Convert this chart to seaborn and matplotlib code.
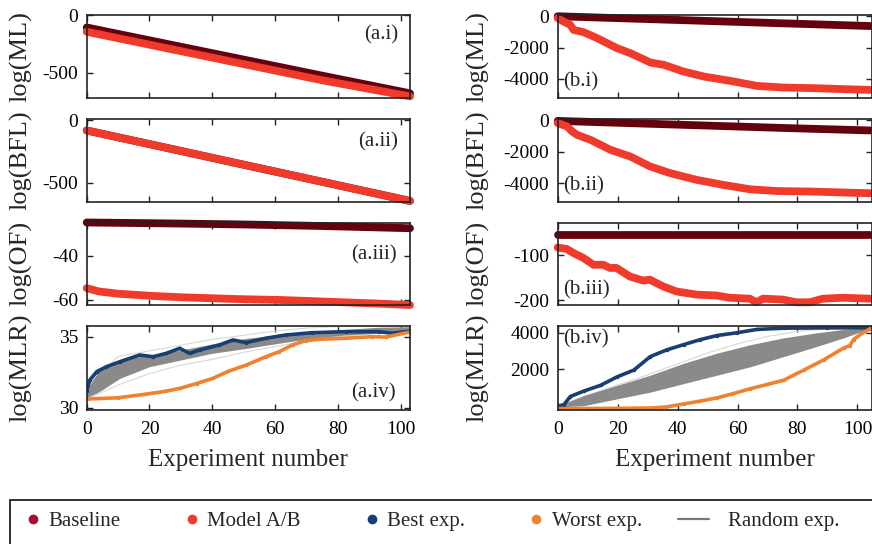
import numpy as np
import matplotlib
matplotlib.use("Agg")
import matplotlib.pyplot as plt
import seaborn as sns
from matplotlib.lines import Line2D
from matplotlib.patches import Rectangle
from matplotlib.legend_handler import HandlerLine2D

# ---------- style ----------
sns.set_theme(style="ticks")
plt.rcParams['font.family'] = ['Liberation Serif', 'DejaVu Serif']
plt.rcParams['axes.unicode_minus'] = False

# ---------- data ----------
# column (a): straight lines
x_a_line = [0, 25, 50, 75, 103]
baseline_ai = [-108, -247, -386, -525, -678]
model_ai = [-145, -285, -425, -565, -705]
baseline_aii = [-81, -218, -356, -493, -647]
model_aii = [-81, -218, -356, -493, -647]
baseline_aiii = [-25.0, -25.4, -25.9, -26.6, -27.6]

x_model_aiii = [0, 4, 10, 21, 30, 41, 50, 61, 71, 82, 92, 103]
model_aiii = [-54.7, -56.2, -57.2, -58.2, -58.8, -59.3, -59.7, -60.0, -60.5, -61.1, -61.6, -62.3]

x_best_aiv = [0, 1, 3.2, 6.3, 10.6, 16.9, 21.2, 25.4, 29.6, 32.8, 36, 42.3, 46.6, 50.8,
              57.1, 63.5, 71.9, 82.5, 93.1, 97.3, 103]
best_aiv = [31.2, 31.95, 32.54, 32.89, 33.24, 33.71, 33.59, 33.83, 34.18, 33.83, 34.06, 34.42,
            34.77, 34.58, 34.89, 35.12, 35.28, 35.35, 35.35, 35.24, 35.38]
x_worst_aiv = [0, 10, 19, 25, 29.6, 35, 40.2, 45, 50.8, 57.1, 61.3, 65.6, 69.8, 74.1, 82.5,
               91, 95.2, 103]
worst_aiv = [30.61, 30.7, 30.96, 31.15, 31.36, 31.7, 32.07, 32.55, 33.0, 33.59, 33.94, 34.42,
             34.72, 34.82, 34.89, 35.0, 34.97, 35.33]
x_band_aiv = [0, 4, 10.6, 20, 30, 40, 51, 61, 72, 82.5, 93, 103]
upper_aiv = [31.3, 32.65, 33.36, 33.71, 34.06, 34.49, 34.89, 35.12, 35.35, 35.52, 35.66, 35.7]
lower_aiv = [30.7, 31.13, 32.07, 32.89, 33.36, 33.83, 34.18, 34.53, 34.89, 35.12, 35.24, 35.35]
x_faint_a = [0, 10, 20, 30, 40, 50, 60, 70, 80, 90, 103]
faint_aiv_1 = [30.6, 31.6, 32.4, 33.0, 33.4, 33.9, 34.3, 34.7, 35.0, 35.2, 35.4]
faint_aiv_2 = [31.5, 33.6, 34.0, 34.4, 34.8, 35.1, 35.4, 35.6, 35.7, 35.75, 35.75]

# column (b)
x_b_line = [0, 25, 50, 75, 104.3]
baseline_bi = [0, -150, -300, -450, -625]
baseline_bii = [-30, -180, -330, -480, -640]
baseline_biii = [-56, -56, -56, -56, -56]

x_model_bi = [0, 2, 4.2, 5.3, 8.7, 13.2, 19.8, 24.3, 31, 35.4, 42, 48.8, 57.7, 66.6, 75.4,
              85.4, 96.5, 104.3]
model_bi = [-120, -340, -550, -870, -1020, -1400, -2040, -2360, -2960, -3100, -3530, -3850,
            -4130, -4450, -4550, -4590, -4660, -4700]
x_model_bii = [0, 3.1, 4.8, 6.4, 10.9, 17.6, 24.2, 30.9, 37.6, 46.4, 55.3, 64.2, 73.1, 85.3,
               96.4, 104.2]
model_bii = [-170, -380, -700, -915, -1235, -1875, -2300, -2940, -3365, -3790, -4110, -4390,
             -4500, -4535, -4600, -4640]
x_model_biii = [0, 3, 5.2, 8.6, 11.9, 15.2, 17.4, 19.6, 24.1, 28.5, 30.7, 35.2, 39.6, 46.3, 53,
                57.4, 64.1, 66.3, 68.5, 75.2, 79.6, 84.1, 88.5, 95.2, 104]
model_biii = [-83, -86, -95, -106, -121, -121, -128, -128, -147, -156, -154, -169, -180, -187,
              -189, -194, -196, -204, -196, -198, -204, -204, -196, -194, -196]

x_best_biv = [0, 2, 4.2, 8.7, 14.3, 19.8, 25.4, 30.9, 36.5, 42, 47.6, 53.2, 59.8, 66.5, 75.4,
              90, 104.3]
best_biv = [0, 60, 517, 813, 1128, 1590, 1961, 2700, 3072, 3350, 3628, 3850, 4000, 4183, 4250,
            4270, 4270]
x_worst_biv = [0, 10, 20, 30.9, 36, 42, 47, 53.2, 58, 64.3, 70, 75.4, 82.1, 88.7, 95.4, 97.5,
               98.7, 101, 104.3]
worst_biv = [-140, -140, -130, -111, -60, 111, 250, 444, 650, 944, 1180, 1406, 1961, 2517, 3167,
             3300, 3628, 3906, 4230]
x_band_biv = [0, 8.7, 19.8, 30.9, 42, 53.2, 64.3, 75.4, 86.5, 95.4, 101, 104.3]
upper_biv = [0, 572, 1128, 1683, 2333, 2889, 3350, 3722, 4000, 4183, 4230, 4250]
lower_biv = [-50, 17, 389, 756, 1222, 1683, 2144, 2700, 3256, 3722, 4050, 4250]
x_faint_b = [0, 10, 20, 30, 40, 50, 60, 70, 80, 90, 104]
faint_biv_1 = [0, 300, 650, 1000, 1450, 2000, 2550, 3050, 3500, 3950, 4250]
faint_biv_2 = [0, 580, 1150, 1700, 2300, 2900, 3400, 3800, 4080, 4220, 4250]

# ---------- colours ----------
c_base = '#65000f'
c_base_leg = '#a50f2f'
c_model = '#ef3a2c'
c_best = '#173f73'
c_worst = '#f0812f'
c_rand = '#8a8a8a'

# ---------- figure ----------
fig = plt.figure(figsize=(8.72, 5.44), dpi=100)
W, H = 872.0, 544.0
col_x = [(86.7, 410.0), (557.7, 871.5)]
rows_y = [(15, 97.7), (119, 201.7), (222.7, 305), (326, 410)]
axes = [[None] * 4 for _ in range(2)]
for c, (x0, x1) in enumerate(col_x):
    for r, (y0, y1) in enumerate(rows_y):
        axes[c][r] = fig.add_axes([x0 / W, 1 - y1 / H, (x1 - x0) / W, (y1 - y0) / H])


def thick(ax, x, y, color):
    sns.lineplot(x=x, y=y, ax=ax, color=color, linewidth=5.6, solid_capstyle='round',
                 legend=False, clip_on=False)


def thin(ax, x, y, color):
    sns.lineplot(x=x, y=y, ax=ax, color=color, linewidth=2.6, solid_capstyle='round',
                 legend=False, marker='o', markersize=2.5, markeredgewidth=0)


def random_band(ax, xf, f1, f2, xb, lo, up):
    sns.lineplot(x=xf, y=f1, ax=ax, color='#d8d8d8', linewidth=0.8, legend=False, zorder=1)
    sns.lineplot(x=xf, y=f2, ax=ax, color='#d8d8d8', linewidth=0.8, legend=False, zorder=1)
    ax.fill_between(xb, lo, up, color=c_rand, lw=0, zorder=1.5)


# (a) column
ax = axes[0][0]
thick(ax, x_a_line, baseline_ai, c_base)
thick(ax, x_a_line, model_ai, c_model)
ax.set_ylim(-716, 0)
ax.set_yticks([-500, 0])

ax = axes[0][1]
thick(ax, x_a_line, baseline_aii, c_base)
thick(ax, x_a_line, model_aii, c_model)
ax.set_ylim(-653, 11)
ax.set_yticks([-500, 0])

ax = axes[0][2]
thick(ax, x_a_line, baseline_aiii, c_base)
thick(ax, x_model_aiii, model_aiii, c_model)
ax.set_ylim(-62.3, -25.1)
ax.set_yticks([-60, -40])

ax = axes[0][3]
random_band(ax, x_faint_a, faint_aiv_1, faint_aiv_2, x_band_aiv, lower_aiv, upper_aiv)
thin(ax, x_best_aiv, best_aiv, c_best)
thin(ax, x_worst_aiv, worst_aiv, c_worst)
ax.set_ylim(29.84, 35.75)
ax.set_yticks([30, 35])

# (b) column
ax = axes[1][0]
thick(ax, x_b_line, baseline_bi, c_base)
thick(ax, x_model_bi, model_bi, c_model)
ax.set_ylim(-5200, 80)
ax.set_yticks([-4000, -2000, 0])

ax = axes[1][1]
thick(ax, x_b_line, baseline_bii, c_base)
thick(ax, x_model_bii, model_bii, c_model)
ax.set_ylim(-5180, 90)
ax.set_yticks([-4000, -2000, 0])

ax = axes[1][2]
thick(ax, x_b_line, baseline_biii, c_base)
thick(ax, x_model_biii, model_biii, c_model)
ax.set_ylim(-210, -28)
ax.set_yticks([-200, -100])

ax = axes[1][3]
random_band(ax, x_faint_b, faint_biv_1, faint_biv_2, x_band_biv, lower_biv, upper_biv)
thin(ax, x_best_biv, best_biv, c_best)
thin(ax, x_worst_biv, worst_biv, c_worst)
ax.set_ylim(-220, 4370)
ax.set_yticks([2000, 4000])

# ---------- axes cosmetics ----------
ylabels = ['log(ML)', 'log(BFL)', 'log(OF)', 'log(MLR)']
panel = [
    [('(a.i)', 0.963, 0.76, 'right'), ('(a.ii)', 0.963, 0.725, 'right'),
     ('(a.iii)', 0.959, 0.61, 'right'), ('(a.iv)', 0.955, 0.2, 'right')],
    [('(b.i)', 0.018, 0.19, 'left'), ('(b.ii)', 0.018, 0.19, 'left'),
     ('(b.iii)', 0.016, 0.18, 'left'), ('(b.iv)', 0.016, 0.85, 'left')],
]
xlims = [(0, 103), (0, 104.7)]
label_x = [-0.169, -0.216]
for c in range(2):
    for r in range(4):
        ax = axes[c][r]
        ax.set_xlim(*xlims[c])
        ax.set_xticks([0, 20, 40, 60, 80, 100])
        ax.tick_params(direction='in', top=True, right=True, length=4, width=1,
                       labelsize=14, pad=6, colors='#222222', labelcolor='black')
        ax.tick_params(axis='x', pad=8)
        for s in ax.spines.values():
            s.set_visible(True)
            s.set_color('#222222')
            s.set_linewidth(1.2)
        ax.set_ylabel(ylabels[r], fontsize=19)
        ax.yaxis.set_label_coords(label_x[c], 0.5)
        if r < 3:
            ax.set_xticklabels([])
            ax.set_xlabel('')
        else:
            ax.set_xlabel('Experiment number', fontsize=18, labelpad=8)
        t, tx, ty, ha = panel[c][r]
        ax.text(tx, ty, t, transform=ax.transAxes, ha=ha, va='center', fontsize=15)


# ---------- legend ----------
class LongLine(HandlerLine2D):
    # random-exp handle drawn about twice as long as the marker handles
    def create_artists(self, legend, orig_handle, xdescent, ydescent, width, height,
                       fontsize, trans):
        return super().create_artists(legend, orig_handle, xdescent + 1.6 * width, ydescent,
                                      1.9 * width, height, fontsize, trans)


rand_handle = Line2D([], [], color='#777777', lw=1.6)
handles = [
    Line2D([], [], ls='none', marker='o', ms=7, color=c_base_leg, mew=0),
    Line2D([], [], ls='none', marker='o', ms=7, color=c_model, mew=0),
    Line2D([], [], ls='none', marker='o', ms=7, color=c_best, mew=0),
    Line2D([], [], ls='none', marker='o', ms=7, color=c_worst, mew=0),
    rand_handle,
]
labels = ['Baseline', 'Model A/B', 'Best exp.', 'Worst exp.', 'Random exp.']
fig.legend(handles, labels, loc='center left', bbox_to_anchor=(6 / W, 1 - 521 / H),
           ncol=5, frameon=False, fontsize=15, handlelength=0.8, handletextpad=0.35,
           columnspacing=3.0, borderpad=0.4, handler_map={rand_handle: LongLine()})
fig.patches.append(Rectangle((10 / W, -0.05), 1.0, (544 - 500) / H + 0.05,
                             transform=fig.transFigure, fill=False, ec='#222222', lw=1.3))

fig.savefig('out.png', dpi=100)
